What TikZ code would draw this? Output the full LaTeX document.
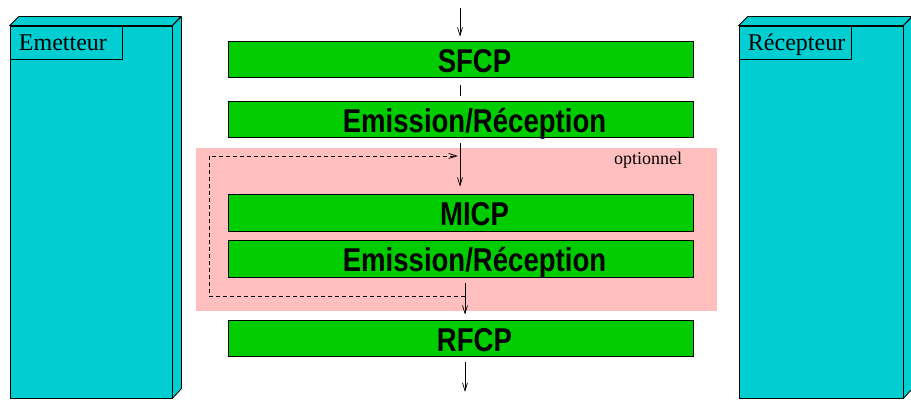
\documentclass[tikz,border=0pt]{standalone}
\usepackage{fontspec}
\setmainfont{Liberation Serif}
\newfontfamily\layerfont[FakeStretch=0.835]{Liberation Sans}
\usetikzlibrary{arrows.meta,positioning}

\definecolor{nodecyan}{RGB}{0,206,209}
\definecolor{layergreen}{RGB}{0,204,0}
\definecolor{optpink}{RGB}{255,191,191}

\begin{document}
\begin{tikzpicture}[x=1pt, y=-1pt,
  station/.style={draw, fill=nodecyan, line width=0.8pt, minimum width=162pt,
                  minimum height=372pt, inner sep=0pt},
  face/.style={draw, fill=nodecyan, line width=0.8pt, line join=round},
  tag/.style={draw, line width=0.7pt, anchor=north west, minimum height=33pt,
              text width=94pt, inner xsep=9pt, inner ysep=0pt, align=left,
              text height=19pt, text depth=3pt, font=\fontsize{24}{28}\selectfont},
  layer/.style={draw, fill=layergreen, line width=0.8pt, minimum width=465pt,
                minimum height=36pt, inner sep=0pt,
                label={[layertxt]center:#1}},
  layertxt/.style={xshift=14pt, inner sep=0pt, text height=27pt, text depth=0pt,
                   font=\layerfont\bfseries\fontsize{33}{37}\selectfont},
  arr/.style={-{Straight Barb[length=8pt,width=5pt]}, line width=0.7pt},
  lnk/.style={line width=0.7pt},
  skip/.style={arr, line width=0.8pt, dash pattern=on 4pt off 3pt},
]
\useasboundingbox (0,0) rectangle (911,403);

% option zone
\node[fill=optpink, minimum width=521pt, minimum height=163pt, inner sep=0pt] (opt) at (456.5,229.5) {};
\node[font=\fontsize{18}{20}\selectfont] (optlbl) at (648,160) {optionnel};

% stations
\node[station] (em) at (91,212) {};
\draw[face] (em.north west) -- ++(9,-9) -- ++(162,0) -- (em.north east) -- cycle;
\draw[face] (em.north east) -- ++(9,-9) -- ++(0,372) -- (em.south east) -- cycle;
\node[tag] (emlbl) at (em.north west) {Emetteur};

\node[station, minimum width=164pt] (rec) at (821,212) {};
\draw[face] (rec.north west) -- ++(9,-9) -- ++(164,0) -- (rec.north east) -- cycle;
\draw[face] (rec.north east) -- ++(9,-9) -- ++(0,372) -- (rec.south east) -- cycle;
\node[tag] (reclbl) at (rec.north west) {Récepteur};

% layers
\node[layer=SFCP] (sfcp) at (460.5,59) {};
\node[layer=Emission/Réception] (er1) at (460.5,119) {};
\node[layer=MICP, minimum height=37pt] (micp) at (460.5,212.5) {};
\node[layer=Emission/Réception, minimum height=37pt] (er2) at (460.5,258.5) {};
\node[layer=RFCP] (rfcp) at (460.5,338) {};

\coordinate (in) at (460,8);
\coordinate (out) at (465,392);
\coordinate (skipa) at (465,296);
\coordinate (skipb) at (458,156);

\draw[arr, shorten >=4pt] (in) -- (sfcp.north -| in);
\draw[lnk, shorten <=8pt, shorten >=5pt] (sfcp.south -| in) -- (er1.north -| in);
\draw[arr, shorten <=6pt, shorten >=7pt] (er1.south -| in) -- (micp.north -| in);
\draw[skip] (skipa) -- (209,296) |- (skipb);
\draw[arr, shorten <=6pt, shorten >=5pt] (er2.south -| out) -- (rfcp.north -| out);
\draw[arr, shorten <=6pt] (rfcp.south -| out) -- (out);
\end{tikzpicture}
\end{document}
